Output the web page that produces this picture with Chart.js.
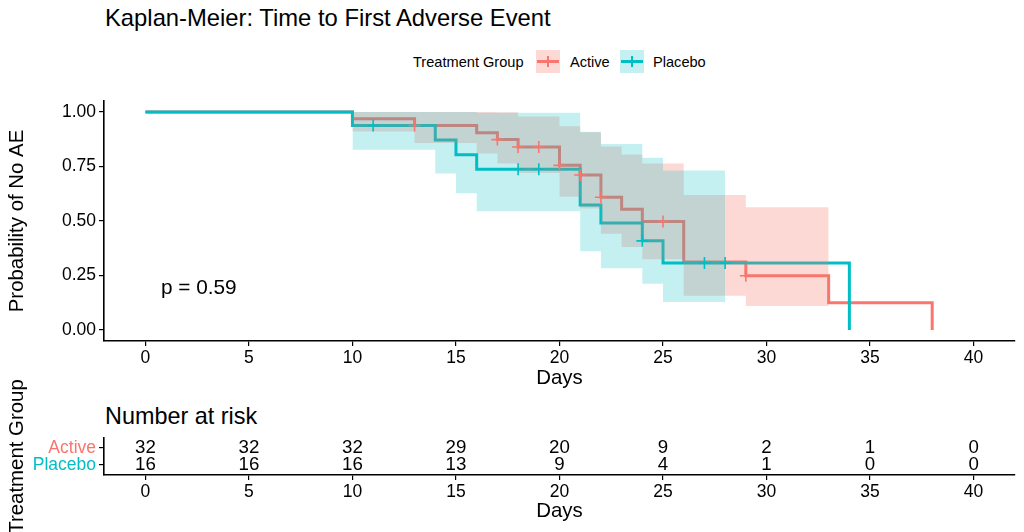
<!DOCTYPE html>
<html>
<head>
<meta charset="utf-8">
<script src="https://cdn.jsdelivr.net/npm/chart.js@4.4.1/dist/chart.umd.min.js"></script>
<style>
  html, body { margin: 0; padding: 0; background: #fff; }
  #page { position: relative; width: 1024px; height: 532px; overflow: hidden;
          font-family: 'Liberation Sans', Arial, sans-serif; color: #000; }
  .txt { position: absolute; white-space: nowrap; line-height: 1; }
  .key { position: absolute; width: 24px; height: 23px; }
  .key .h { position: absolute; left: 1px; right: 1px; top: 10px; height: 3px; }
  .key .v { position: absolute; left: 11px; width: 2px; top: 6px; height: 11px; }
  .holder { position: absolute; left: 0; }
</style>
</head>
<body>
<div id="page">
  <div class="txt" style="left:105px;top:6px;font-size:23.8px">Kaplan-Meier: Time to First Adverse Event</div>

  <div class="txt" style="left:413px;top:55px;font-size:14.6px">Treatment Group</div>
  <div class="key" style="left:536px;top:50px;background:rgba(248,118,109,0.28)">
    <div class="h" style="background:#F8766D"></div><div class="v" style="background:#F8766D"></div>
  </div>
  <div class="txt" style="left:570px;top:55px;font-size:14.6px">Active</div>
  <div class="key" style="left:620px;top:50px;background:rgba(0,191,196,0.23)">
    <div class="h" style="background:#00BFC4"></div><div class="v" style="background:#00BFC4"></div>
  </div>
  <div class="txt" style="left:653px;top:55px;font-size:14.6px">Placebo</div>

  <div class="holder" style="top:90px;width:1024px;height:310px"><canvas id="kmChart" width="1024" height="310"></canvas></div>
  <div class="txt" style="left:105px;top:405px;font-size:23.4px">Number at risk</div>
  <div class="holder" style="top:370px;width:1024px;height:162px"><canvas id="riskChart" width="1024" height="162"></canvas></div>
</div>

<script>
// axis ticks
const xTicks = [0, 5, 10, 15, 20, 25, 30, 35, 40];
const yTicks = [0, 0.25, 0.5, 0.75, 1];

// Kaplan-Meier steps
const activeTimes = [0, 10, 13, 16, 17, 18, 20, 21, 22, 23, 24, 26, 29, 33, 38];
const activeSurv = [1, 0.969, 0.938, 0.905, 0.873, 0.839, 0.755, 0.711, 0.609, 0.554, 0.498, 0.312, 0.249, 0.125, 0];
const placeboTimes = [0, 10, 14, 15, 16, 21, 22, 24, 25, 34];
const placeboSurv = [1, 0.938, 0.871, 0.804, 0.737, 0.573, 0.491, 0.409, 0.307, 0];

// censored observations
const activeCensor = [13, 17, 18, 19, 20, 21, 22, 25, 29];
const placeboCensor = [11, 18, 19, 24, 27, 28];

// 95% confidence bands
const activeBandTimes = [10, 13, 16, 17, 18, 20, 21, 22, 23, 24, 26, 29, 33];
const activeUpper = [1, 1, 1, 0.998, 0.979, 0.934, 0.907, 0.842, 0.805, 0.764, 0.619, 0.563, 0.563];
const activeLower = [0.910, 0.857, 0.809, 0.764, 0.720, 0.611, 0.557, 0.441, 0.381, 0.325, 0.157, 0.110, 0.110];
const placeboBandTimes = [10, 14, 15, 16, 21, 22, 24, 25, 28];
const placeboUpper = [1, 1, 1, 0.996, 0.909, 0.853, 0.790, 0.731, 0.731];
const placeboLower = [0.826, 0.718, 0.627, 0.545, 0.361, 0.283, 0.212, 0.129, 0.129];

// number at risk table
const groups = ['Active', 'Placebo'];
const riskTimes = [0, 5, 10, 15, 20, 25, 30, 35, 40];
const riskActive = [32, 32, 32, 29, 20, 9, 2, 1, 0];
const riskPlacebo = [16, 16, 16, 13, 9, 4, 1, 0, 0];

const pValue = 'p = 0.59';

const RED = '#F8766D', TEAL = '#00BFC4';
const FONT = "'Liberation Sans', Arial, sans-serif";
Chart.defaults.font.family = FONT;
Chart.defaults.color = '#000';

function pts(xs, ys) {
    return xs.map((x, i) => ({ x: x, y: ys[i] }));
}
function survAt(times, surv, t) {
    let s = surv[0];
    for (let i = 0; i < times.length; i++) if (times[i] <= t) s = surv[i];
    return s;
}
function censorPts(cens, times, surv) {
    return cens.map(t => ({ x: t, y: survAt(times, surv, t) }));
}

function axisX(height, titleBottom) {
    return {
        type: 'linear', min: -2, max: 42,
        afterBuildTicks: s => { s.ticks = xTicks.map(v => ({ value: v })); },
        afterFit: s => { s.height = height; s.paddingLeft = 0; s.paddingRight = 0; },
        grid: { drawOnChartArea: false, drawTicks: true, tickLength: 5, color: '#000', lineWidth: 1.2 },
        border: { display: true, color: '#000', width: 1.6 },
        ticks: { color: '#000', font: { size: 17.5 }, padding: 2, maxRotation: 0, autoSkip: false },
        title: { display: true, text: 'Days', color: '#000', font: { size: 20.4 }, padding: { top: 0, bottom: titleBottom } }
    };
}

// p value label
const pLabel = {
    id: 'pLabel',
    afterDatasetsDraw(chart) {
        const { ctx, scales: { x, y } } = chart;
        ctx.save();
        ctx.font = '20.8px ' + FONT;
        ctx.fillStyle = '#000';
        ctx.textAlign = 'left';
        ctx.textBaseline = 'middle';
        ctx.fillText(pValue, x.getPixelForValue(0.75), y.getPixelForValue(0.19));
        ctx.restore();
    }
};

new Chart(document.getElementById('kmChart'), {
    type: 'line',
    data: {
        datasets: [
            { data: pts(activeTimes, activeSurv), borderColor: RED, borderWidth: 3, stepped: true, pointRadius: 0, fill: false, order: 5 },
            { data: pts(placeboTimes, placeboSurv), borderColor: TEAL, borderWidth: 3, stepped: true, pointRadius: 0, fill: false, order: 4 },
            { data: pts(activeBandTimes, activeUpper), borderWidth: 0, stepped: true, pointRadius: 0, fill: '+1', backgroundColor: 'rgba(248,118,109,0.28)', order: 3 },
            { data: pts(activeBandTimes, activeLower), borderWidth: 0, stepped: true, pointRadius: 0, fill: false, order: 3 },
            { data: pts(placeboBandTimes, placeboUpper), borderWidth: 0, stepped: true, pointRadius: 0, fill: '+1', backgroundColor: 'rgba(0,191,196,0.23)', order: 2 },
            { data: pts(placeboBandTimes, placeboLower), borderWidth: 0, stepped: true, pointRadius: 0, fill: false, order: 2 },
            { data: censorPts(activeCensor, activeTimes, activeSurv), showLine: false, pointStyle: 'cross', pointRadius: 6, borderColor: RED, pointBorderWidth: 1.6, order: 1 },
            { data: censorPts(placeboCensor, placeboTimes, placeboSurv), showLine: false, pointStyle: 'cross', pointRadius: 6, borderColor: TEAL, pointBorderWidth: 1.6, order: 1 }
        ]
    },
    options: {
        responsive: false,
        animation: false,
        events: [],
        layout: { padding: { top: 11, right: 9, left: 0, bottom: 0 } },
        plugins: {
            legend: { display: false },
            tooltip: { enabled: false },
            filler: { drawTime: 'beforeDatasetDraw' }
        },
        scales: {
            x: axisX(59, 9),
            y: {
                type: 'linear', min: -0.05, max: 1.05,
                afterBuildTicks: s => { s.ticks = yTicks.map(v => ({ value: v })); },
                afterFit: s => { s.width = 104; s.paddingTop = 0; s.paddingBottom = 0; },
                grid: { drawOnChartArea: false, drawTicks: true, tickLength: 5, color: '#000', lineWidth: 1.2 },
                border: { display: true, color: '#000', width: 1.6 },
                ticks: { color: '#000', font: { size: 17.5 }, padding: 3, callback: v => v.toFixed(2) },
                title: { display: true, text: 'Probability of No AE', color: '#000', font: { size: 20.4 }, padding: { top: 5, bottom: 0 } }
            }
        }
    },
    plugins: [pLabel]
});

// risk table numbers
const riskCounts = [riskActive, riskPlacebo];
const riskLabels = {
    id: 'riskLabels',
    afterDatasetsDraw(chart) {
        const ctx = chart.ctx;
        ctx.save();
        ctx.font = '18.7px ' + FONT;
        ctx.fillStyle = '#000';
        ctx.textAlign = 'center';
        ctx.textBaseline = 'middle';
        chart.data.datasets.forEach((ds, di) => {
            chart.getDatasetMeta(di).data.forEach((el, i) => {
                ctx.fillText(String(riskCounts[di][i]), el.x, el.y);
            });
        });
        ctx.restore();
    }
};

// Active on top row (2), Placebo below (1)
const groupY = [2, 1];

new Chart(document.getElementById('riskChart'), {
    type: 'scatter',
    data: {
        datasets: groups.map((g, gi) => ({
            label: g,
            data: riskTimes.map(t => ({ x: t, y: groupY[gi] })),
            pointRadius: 0
        }))
    },
    options: {
        responsive: false,
        animation: false,
        events: [],
        layout: { padding: { top: 68, right: 9, left: 0, bottom: 0 } },
        plugins: { legend: { display: false }, tooltip: { enabled: false } },
        scales: {
            x: axisX(57, 8),
            y: {
                type: 'linear', min: 0.4, max: 2.6,
                afterBuildTicks: s => { s.ticks = groupY.map(v => ({ value: v })); },
                afterFit: s => { s.width = 104; s.paddingTop = 0; s.paddingBottom = 0; },
                grid: { drawOnChartArea: false, drawTicks: true, tickLength: 5, color: '#000', lineWidth: 1.2 },
                border: { display: true, color: '#000', width: 1.6 },
                ticks: {
                    font: { size: 17.5 }, padding: 3,
                    callback: v => groups[groupY.indexOf(v)],
                    color: c => (groupY.indexOf(c.tick.value) === 0 ? RED : TEAL)
                },
                title: { display: true, text: 'Treatment Group', color: '#000', font: { size: 20.4 }, padding: { top: 5, bottom: 0 } }
            }
        }
    },
    plugins: [riskLabels]
});
</script>
</body>
</html>
